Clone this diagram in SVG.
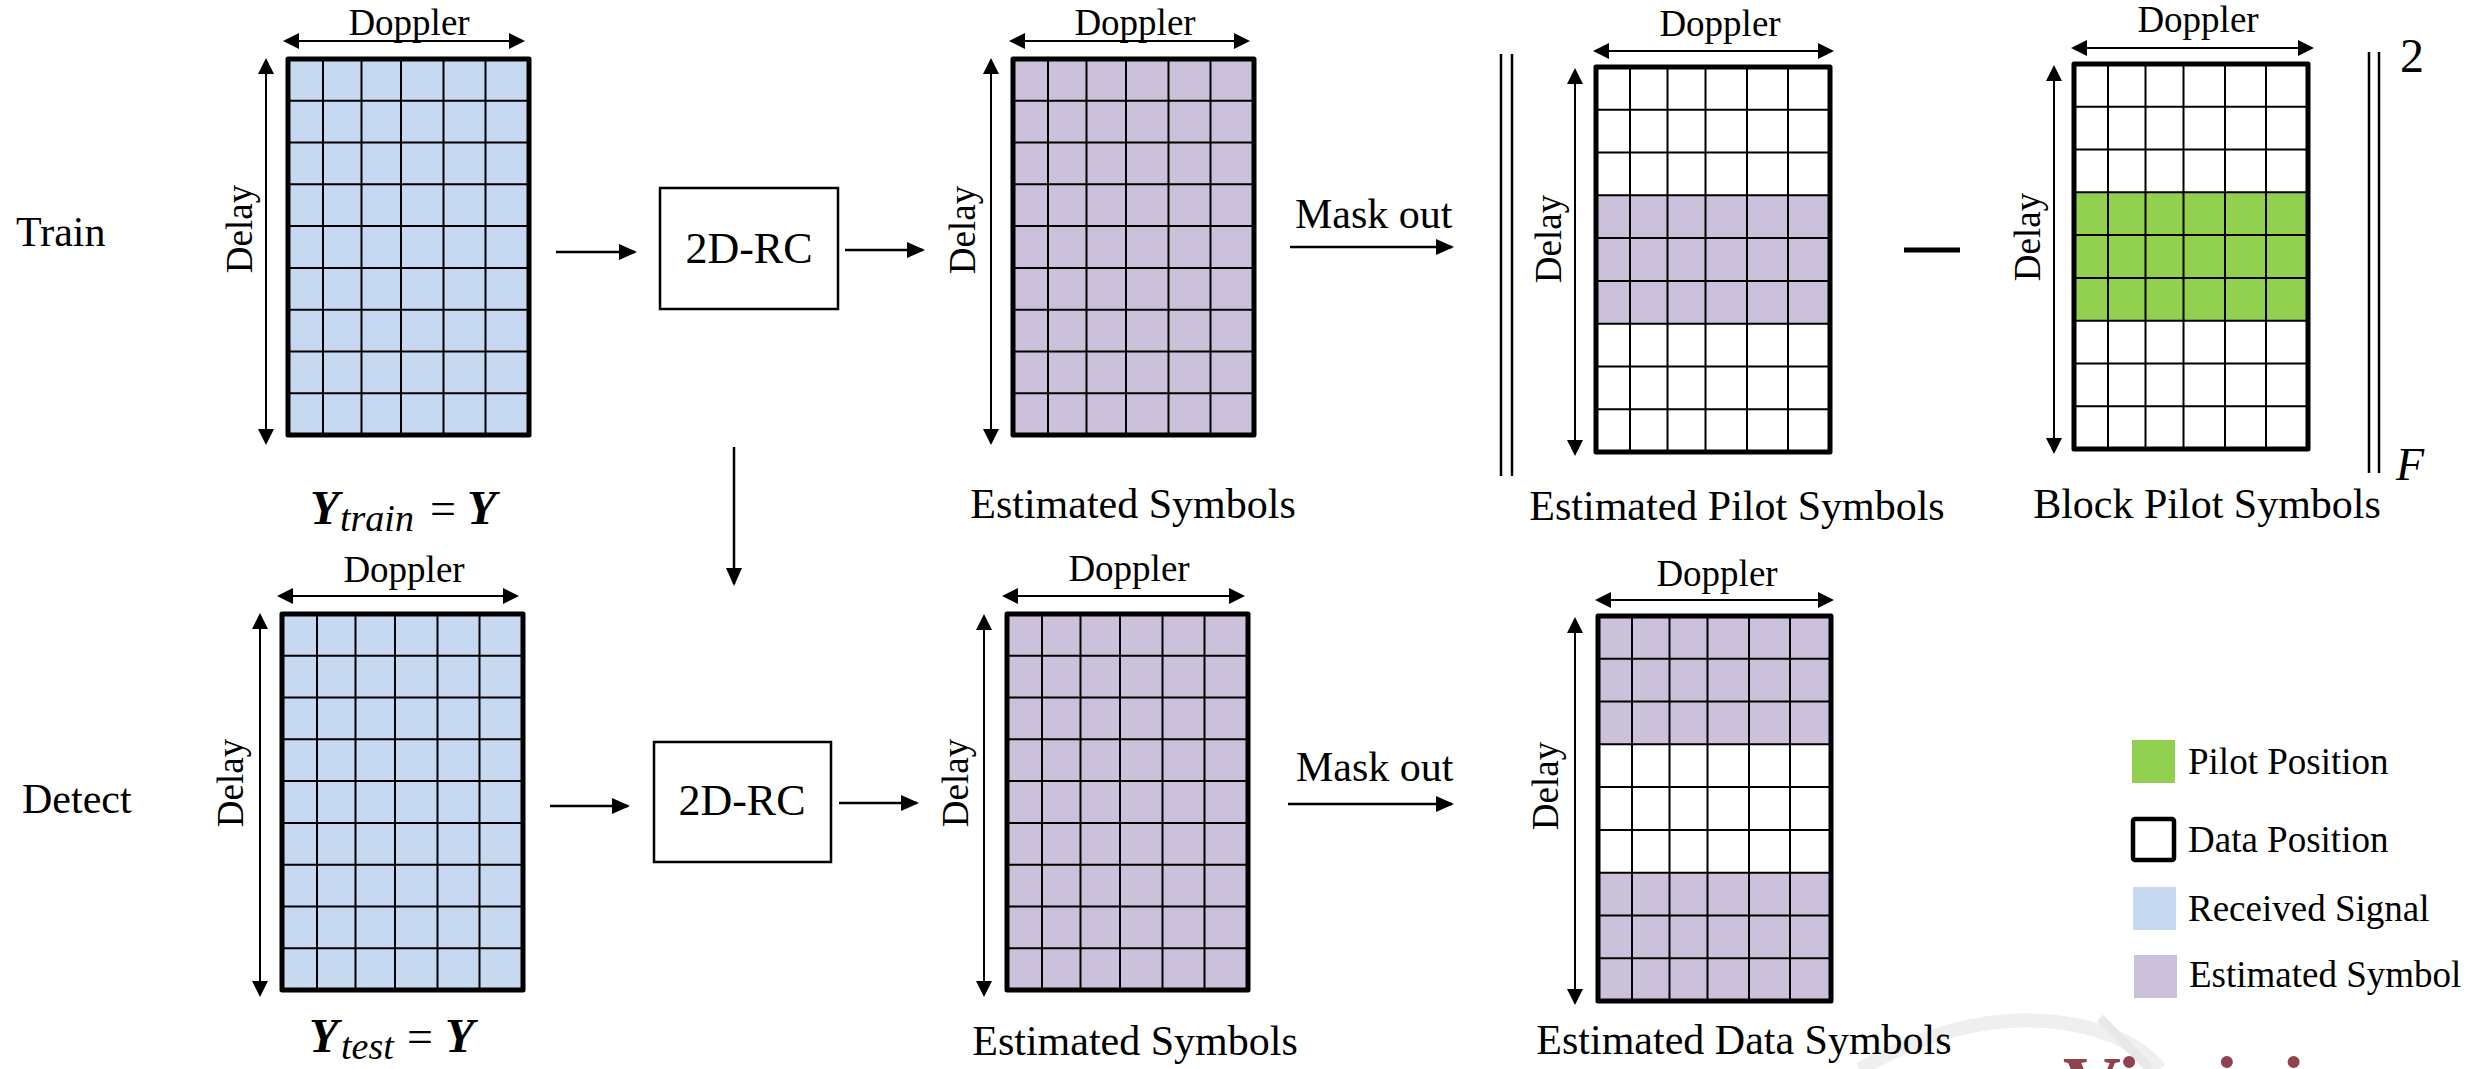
<svg xmlns="http://www.w3.org/2000/svg" xmlns:xlink="http://www.w3.org/1999/xlink" width="2471" height="1069" viewBox="0 0 2471 1069">
  <style>
    .t { font-family: "Liberation Serif", "Times New Roman", serif; fill: #000; }
    .lbl { font-size: 42px; }
    .axl { font-size: 37px; }
    .mid { text-anchor: middle; }
    .lines { fill: none; stroke: #000; stroke-width: 2; }
    .border { fill: none; stroke: #000; stroke-width: 5; stroke-linejoin: round; }
    .axis { fill: none; stroke: #000; stroke-width: 2; marker-start: url(#axhead); marker-end: url(#axhead); }
    .conn { fill: none; stroke: #000; stroke-width: 2.5; marker-end: url(#arrow); }
    .box { fill: #fff; stroke: #000; stroke-width: 2.5; }
    .bar { stroke: #000; stroke-width: 2.5; }
    .rx { fill: #C6D9F1; }
    .est { fill: #CCC1DA; }
    .pil { fill: #92D050; }
  </style>
  <defs>
    <marker id="axhead" markerUnits="userSpaceOnUse" viewBox="0 0 16 16" markerWidth="16" markerHeight="16" refX="14" refY="8" orient="auto-start-reverse">
      <path d="M0,0 L16,8 L0,16 Z" fill="#000"/>
    </marker>
    <marker id="arrow" markerUnits="userSpaceOnUse" viewBox="0 0 18 16" markerWidth="18" markerHeight="16" refX="16" refY="8" orient="auto">
      <path d="M0,0 L18,8 L0,16 Z" fill="#000"/>
    </marker>
    <!-- 6 x 9 cell lattice, wide variant -->
    <path id="latticeA" class="lines" d="M35,0V376M73.5,0V376M113,0V376M155.5,0V376M197.5,0V376M0,41.8H241M0,83.6H241M0,125.3H241M0,167.1H241M0,208.9H241M0,250.7H241M0,292.4H241M0,334.2H241"/>
    <!-- 6 x 9 cell lattice, tall variant -->
    <path id="latticeB" class="lines" d="M34,0V385M71.5,0V385M109.5,0V385M151,0V385M192,0V385M0,42.8H234M0,85.6H234M0,128.3H234M0,171.1H234M0,213.9H234M0,256.7H234M0,299.4H234M0,342.2H234"/>
    <clipPath id="page">
      <rect width="2471" height="1069"/>
    </clipPath>
  </defs>

  <rect width="2471" height="1069" fill="#fff"/>

  <!-- faint logo watermark along the lower right edge -->
  <g id="watermark" clip-path="url(#page)">
    <path d="M1860,1069 C1930,1030 2000,1012 2070,1024 C2110,1031 2140,1045 2160,1069" fill="none" stroke="#efefef" stroke-width="14"/>
    <path d="M2100,1018 L2150,1069" fill="none" stroke="#e8e8e8" stroke-width="9"/>
    <text x="2063" y="1112" font-family="Liberation Serif, serif" font-size="80" font-weight="bold" fill="#7d2230" opacity="0.85">Virginia</text>
  </g>

  <!-- row labels -->
  <g id="row-labels">
    <text class="t lbl" x="16" y="246">Train</text>
    <text class="t lbl" x="22" y="813">Detect</text>
  </g>

  <!-- training: received grid -->
  <g id="train-received" transform="translate(288,59)">
    <rect class="rx" width="241" height="376"/>
    <use xlink:href="#latticeA"/>
    <rect class="border" width="241" height="376"/>
    <line class="axis" x1="-3" y1="-18" x2="235" y2="-18"/>
    <line class="axis" x1="-22" y1="1" x2="-22" y2="384"/>
    <text class="t axl mid" x="121" y="-24">Doppler</text>
    <text class="t axl mid" transform="translate(-36,170) rotate(-90)">Delay</text>
  </g>
  <text id="label-ytrain" class="t" y="524"><tspan x="310" font-size="48" font-weight="bold" font-style="italic">Y</tspan><tspan x="340" y="531" font-size="38" font-style="italic">train</tspan><tspan x="430" y="524" font-size="46">=</tspan><tspan x="467" font-size="48" font-weight="bold" font-style="italic">Y</tspan></text>

  <!-- training: reservoir block -->
  <g id="train-rc">
    <rect class="box" x="660" y="188" width="178" height="121"/>
    <text class="t mid" x="749" y="263" font-size="44">2D-RC</text>
  </g>

  <!-- training: estimated grid -->
  <g id="train-estimated" transform="translate(1013,59)">
    <rect class="est" width="241" height="376"/>
    <use xlink:href="#latticeA"/>
    <rect class="border" width="241" height="376"/>
    <line class="axis" x1="-2" y1="-18" x2="235" y2="-18"/>
    <line class="axis" x1="-22" y1="1" x2="-22" y2="384"/>
    <text class="t axl mid" x="122" y="-24">Doppler</text>
    <text class="t axl mid" transform="translate(-38,171) rotate(-90)">Delay</text>
  </g>
  <text class="t lbl mid" x="1133" y="518">Estimated Symbols</text>
  <text class="t lbl" x="1295" y="228">Mask out</text>

  <!-- training: norm of the difference -->
  <g id="norm">
    <line class="bar" x1="1501" y1="54" x2="1501" y2="476"/>
    <line class="bar" x1="1512" y1="54" x2="1512" y2="476"/>
    <line x1="1904" y1="250" x2="1960" y2="250" stroke="#000" stroke-width="5"/>
    <line class="bar" x1="2369" y1="52" x2="2369" y2="473"/>
    <line class="bar" x1="2379" y1="52" x2="2379" y2="473"/>
    <text class="t" x="2400" y="72" font-size="48">2</text>
    <text class="t" x="2396" y="480" font-size="46" font-style="italic">F</text>
  </g>

  <!-- training: estimated pilot grid -->
  <g id="train-pilot-est" transform="translate(1596,67)">
    <rect fill="#fff" width="234" height="385"/>
    <rect class="est" y="128.3" width="234" height="128.4"/>
    <use xlink:href="#latticeB"/>
    <rect class="border" width="234" height="385"/>
    <line class="axis" x1="-1" y1="-16" x2="236" y2="-16"/>
    <line class="axis" x1="-21" y1="3" x2="-21" y2="387"/>
    <text class="t axl mid" x="124" y="-31">Doppler</text>
    <text class="t axl mid" transform="translate(-35,172) rotate(-90)">Delay</text>
  </g>
  <text class="t lbl mid" x="1737" y="520">Estimated Pilot Symbols</text>

  <!-- training: block pilot grid -->
  <g id="train-pilot-block" transform="translate(2074,64)">
    <rect fill="#fff" width="234" height="385"/>
    <rect class="pil" y="128.3" width="234" height="128.4"/>
    <use xlink:href="#latticeB"/>
    <rect class="border" width="234" height="385"/>
    <line class="axis" x1="-1" y1="-16" x2="238" y2="-16"/>
    <line class="axis" x1="-20" y1="3" x2="-20" y2="388"/>
    <text class="t axl mid" x="124" y="-32">Doppler</text>
    <text class="t axl mid" transform="translate(-34,173) rotate(-90)">Delay</text>
  </g>
  <text class="t lbl mid" x="2207" y="518">Block Pilot Symbols</text>

  <!-- detection: received grid -->
  <g id="detect-received" transform="translate(282,614)">
    <rect class="rx" width="241" height="376"/>
    <use xlink:href="#latticeA"/>
    <rect class="border" width="241" height="376"/>
    <line class="axis" x1="-3" y1="-18" x2="235" y2="-18"/>
    <line class="axis" x1="-22" y1="1" x2="-22" y2="381"/>
    <text class="t axl mid" x="122" y="-32">Doppler</text>
    <text class="t axl mid" transform="translate(-39,169) rotate(-90)">Delay</text>
  </g>
  <text id="label-ytest" class="t" y="1052"><tspan x="309" font-size="48" font-weight="bold" font-style="italic">Y</tspan><tspan x="341" y="1059" font-size="38" font-style="italic">test</tspan><tspan x="407" y="1052" font-size="46">=</tspan><tspan x="445" font-size="48" font-weight="bold" font-style="italic">Y</tspan></text>

  <!-- detection: reservoir block -->
  <g id="detect-rc">
    <rect class="box" x="654" y="742" width="177" height="120"/>
    <text class="t mid" x="742" y="815" font-size="44">2D-RC</text>
  </g>

  <!-- detection: estimated grid -->
  <g id="detect-estimated" transform="translate(1007,614)">
    <rect class="est" width="241" height="376"/>
    <use xlink:href="#latticeA"/>
    <rect class="border" width="241" height="376"/>
    <line class="axis" x1="-3" y1="-18" x2="236" y2="-18"/>
    <line class="axis" x1="-23" y1="2" x2="-23" y2="381"/>
    <text class="t axl mid" x="122" y="-33">Doppler</text>
    <text class="t axl mid" transform="translate(-39,169) rotate(-90)">Delay</text>
  </g>
  <text class="t lbl mid" x="1135" y="1055">Estimated Symbols</text>
  <text class="t lbl" x="1296" y="781">Mask out</text>

  <!-- detection: estimated data grid -->
  <g id="detect-data" transform="translate(1598,616)">
    <rect fill="#fff" width="233" height="385"/>
    <rect class="est" width="233" height="128.3"/>
    <rect class="est" y="256.7" width="233" height="128.3"/>
    <use xlink:href="#latticeB"/>
    <rect class="border" width="233" height="385"/>
    <line class="axis" x1="-1" y1="-16" x2="234" y2="-16"/>
    <line class="axis" x1="-23" y1="3" x2="-23" y2="387"/>
    <text class="t axl mid" x="119" y="-30">Doppler</text>
    <text class="t axl mid" transform="translate(-40,170) rotate(-90)">Delay</text>
  </g>
  <text class="t lbl mid" x="1744" y="1054">Estimated Data Symbols</text>

  <!-- connectors -->
  <g id="connectors">
    <line class="conn" x1="556" y1="252" x2="635" y2="252"/>
    <line class="conn" x1="845" y1="250" x2="923" y2="250"/>
    <line class="conn" x1="1290" y1="247" x2="1452" y2="247"/>
    <line class="conn" x1="734" y1="447" x2="734" y2="584"/>
    <line class="conn" x1="550" y1="806" x2="628" y2="806"/>
    <line class="conn" x1="839" y1="803" x2="917" y2="803"/>
    <line class="conn" x1="1288" y1="804" x2="1452" y2="804"/>
  </g>

  <!-- legend -->
  <g id="legend">
    <rect class="pil" x="2132" y="740" width="43" height="43"/>
    <text class="t axl" x="2188" y="774">Pilot Position</text>
    <rect x="2133" y="819" width="41" height="41" rx="2" fill="#fff" stroke="#000" stroke-width="4.5"/>
    <text class="t axl" x="2188" y="852">Data Position</text>
    <rect class="rx" x="2133" y="887" width="43" height="43"/>
    <text class="t axl" x="2188" y="921">Received Signal</text>
    <rect class="est" x="2134" y="955" width="43" height="43"/>
    <text class="t axl" x="2189" y="987">Estimated Symbol</text>
  </g>
</svg>
